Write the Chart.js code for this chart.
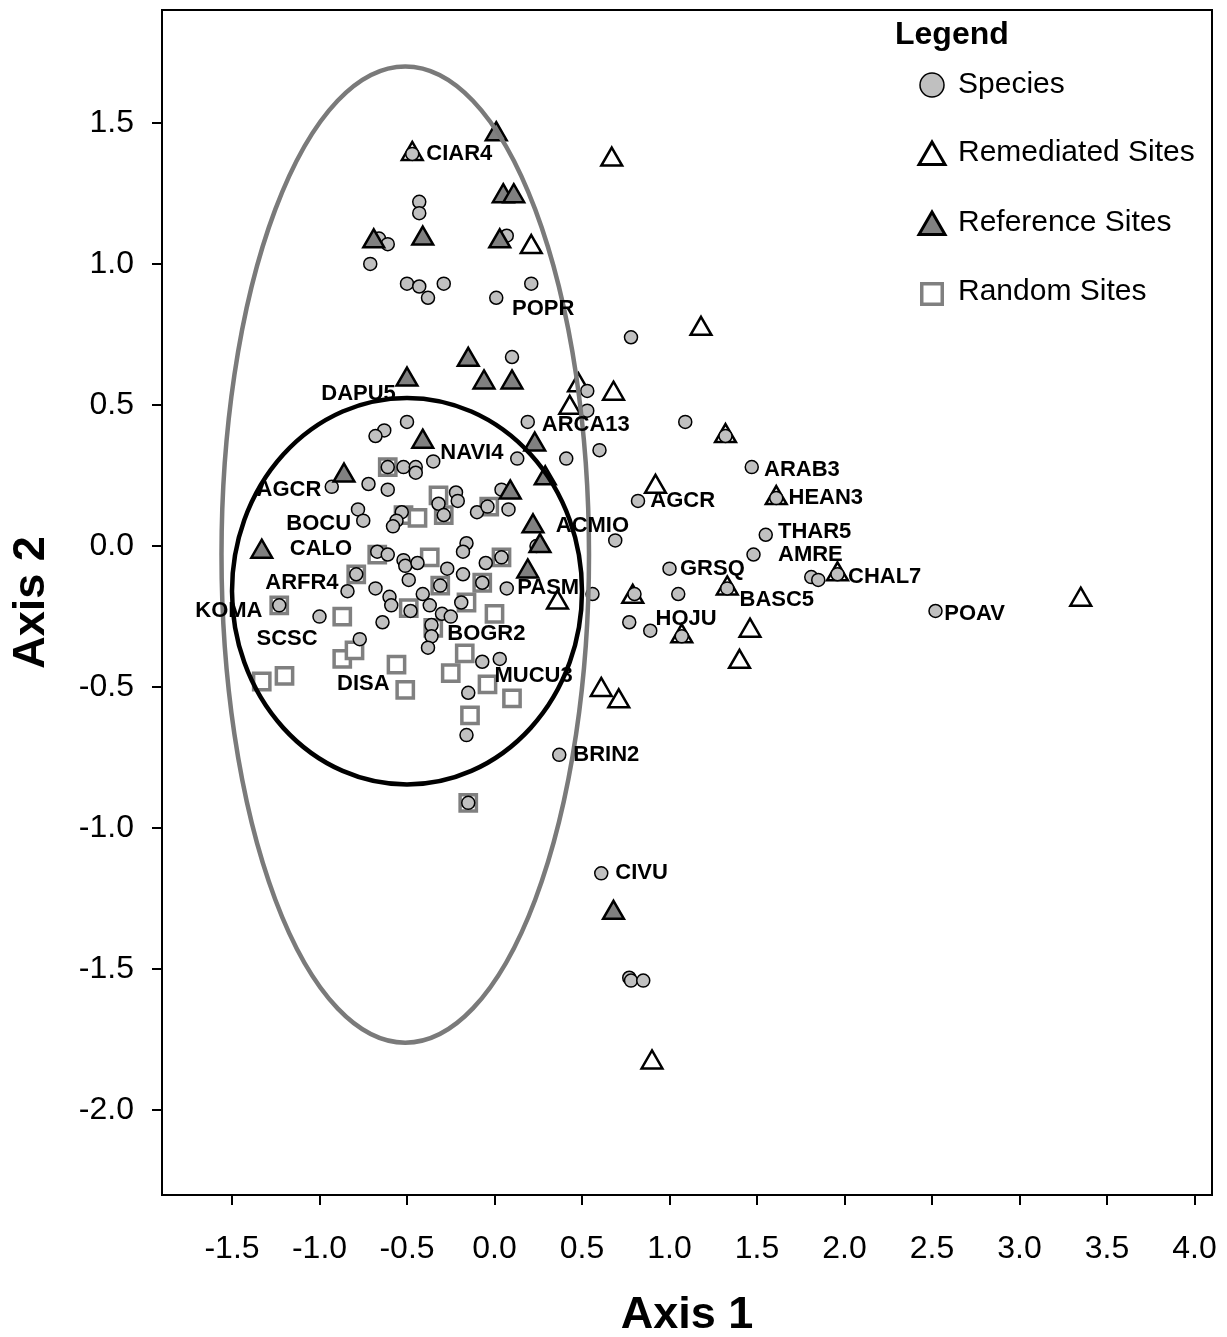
<!DOCTYPE html>
<html>
<head>
<meta charset="utf-8">
<script src="https://cdn.jsdelivr.net/npm/chart.js@4.4.1/dist/chart.umd.min.js"></script>
<style>
  html, body { margin: 0; padding: 0; background: #fff; }
</style>
</head>
<body>
<canvas id="ordination" width="1227" height="1337"></canvas>
<script>
// Tick values
const xTicks = [-1.5, -1.0, -0.5, 0.0, 0.5, 1.0, 1.5, 2.0, 2.5, 3.0, 3.5, 4.0];
const yTicks = [-2.0, -1.5, -1.0, -0.5, 0.0, 0.5, 1.0, 1.5];

// Species scores [axis1, axis2]
const species = [
  [-0.47, 1.39], [-0.43, 1.22], [-0.43, 1.18], [-0.66, 1.09], [-0.61, 1.07], [-0.71, 1.00],
  [-0.50, 0.93], [-0.43, 0.92], [-0.38, 0.88], [-0.29, 0.93], [0.01, 0.88], [0.21, 0.93],
  [0.07, 1.10], [0.78, 0.74], [0.10, 0.67], [0.53, 0.55], [0.53, 0.48], [0.19, 0.44],
  [1.09, 0.44], [1.32, 0.39], [0.13, 0.31], [0.41, 0.31], [0.60, 0.34], [1.47, 0.28],
  [0.82, 0.16], [1.61, 0.17], [0.08, 0.13], [-0.50, 0.44], [-0.63, 0.41], [-0.68, 0.39],
  [-0.35, 0.30], [-0.61, 0.28], [-0.52, 0.28], [-0.45, 0.28], [-0.45, 0.26], [-0.93, 0.21],
  [-0.72, 0.22], [-0.61, 0.20], [-0.22, 0.19], [-0.21, 0.16], [-0.32, 0.15], [-0.29, 0.11],
  [-0.53, 0.12], [-0.56, 0.09], [-0.58, 0.07], [-0.78, 0.13], [-0.75, 0.09], [-0.10, 0.12],
  [-0.04, 0.14], [0.04, 0.20], [-0.16, 0.01], [-0.18, -0.02], [0.24, 0.00], [-0.67, -0.02],
  [-0.61, -0.03], [-0.52, -0.05], [-0.51, -0.07], [-0.44, -0.06], [-0.27, -0.08], [-0.18, -0.10],
  [-0.05, -0.06], [0.04, -0.04], [-0.79, -0.10], [-0.84, -0.16], [-0.68, -0.15], [-0.60, -0.18],
  [-0.59, -0.21], [-0.49, -0.12], [-0.41, -0.17], [-0.37, -0.21], [-0.31, -0.14], [-0.30, -0.24],
  [-0.25, -0.25], [-0.07, -0.13], [-0.19, -0.20], [0.07, -0.15], [-0.48, -0.23], [-0.36, -0.28],
  [-0.36, -0.32], [-0.38, -0.36], [-0.64, -0.27], [-0.77, -0.33], [-1.00, -0.25], [-1.23, -0.21],
  [-0.07, -0.41], [0.03, -0.40], [-0.15, -0.52], [-0.16, -0.67], [-0.15, -0.91], [0.37, -0.74],
  [0.61, -1.16], [0.77, -1.53], [0.78, -1.54], [0.85, -1.54], [0.69, 0.02], [1.55, 0.04],
  [1.48, -0.03], [1.00, -0.08], [1.81, -0.11], [1.85, -0.12], [1.96, -0.10], [0.56, -0.17],
  [0.80, -0.17], [1.05, -0.17], [1.33, -0.15], [2.52, -0.23], [0.77, -0.27], [0.89, -0.30],
  [1.07, -0.32]
];

// Remediated sites
const remediated = [
  [-0.47, 1.39], [0.67, 1.37], [0.21, 1.06], [1.18, 0.77], [0.48, 0.57], [0.68, 0.54],
  [0.43, 0.49], [1.32, 0.39], [0.92, 0.21], [1.61, 0.17], [0.36, -0.20], [0.79, -0.18],
  [1.33, -0.15], [1.96, -0.10], [1.46, -0.30], [1.07, -0.32], [1.40, -0.41], [0.61, -0.51],
  [0.71, -0.55], [3.35, -0.19], [0.90, -1.83]
];

// Reference sites
const reference = [
  [0.01, 1.46], [0.05, 1.24], [0.11, 1.24], [-0.69, 1.08], [-0.41, 1.09], [0.03, 1.08],
  [-0.50, 0.59], [-0.15, 0.66], [-0.06, 0.58], [0.10, 0.58], [-0.41, 0.37], [-0.86, 0.25],
  [0.23, 0.36], [0.29, 0.24], [0.09, 0.19], [0.22, 0.07], [0.26, 0.00], [-1.33, -0.02],
  [0.19, -0.09], [0.68, -1.30]
];

// Random sites
const randomSites = [
  [-0.61, 0.28], [-0.32, 0.18], [-0.52, 0.11], [-0.44, 0.10], [-0.29, 0.11], [-0.03, 0.14],
  [-0.67, -0.03], [-0.79, -0.10], [-0.37, -0.04], [-0.31, -0.14], [0.04, -0.04], [-0.07, -0.13],
  [-1.23, -0.21], [-0.87, -0.25], [-0.49, -0.22], [-0.35, -0.29], [-0.16, -0.20], [0.00, -0.24],
  [-1.33, -0.48], [-1.20, -0.46], [-0.87, -0.40], [-0.80, -0.37], [-0.56, -0.42], [-0.51, -0.51],
  [-0.25, -0.45], [-0.17, -0.38], [-0.04, -0.49], [0.10, -0.54], [-0.14, -0.60], [-0.15, -0.91]
];

// Species code labels: text and where the text starts
const labelText = ['CIAR4', 'POPR', 'DAPU5', 'ARCA13', 'NAVI4', 'ARAB3', 'AGCR', 'HEAN3', 'AGCR',
  'BOCU', 'ACMIO', 'THAR5', 'CALO', 'AMRE', 'GRSQ', 'CHAL7', 'ARFR4', 'PASM', 'BASC5', 'KOMA',
  'POAV', 'HOJU', 'SCSC', 'BOGR2', 'DISA', 'MUCU3', 'BRIN2', 'CIVU'];
const labelPos = [
  [-0.39, 1.39], [0.10, 0.84], [-0.99, 0.54], [0.27, 0.43], [-0.31, 0.33], [1.54, 0.27],
  [-1.36, 0.20], [1.68, 0.17], [0.89, 0.16], [-1.19, 0.08], [0.35, 0.07], [1.62, 0.05],
  [-1.17, -0.01], [1.62, -0.03], [1.06, -0.08], [2.02, -0.11], [-1.31, -0.13], [0.13, -0.15],
  [1.40, -0.19], [-1.71, -0.23], [2.57, -0.24], [0.92, -0.26], [-1.36, -0.33], [-0.27, -0.31],
  [-0.90, -0.49], [0.00, -0.46], [0.45, -0.74], [0.69, -1.16]
];

// Confidence ellipses: [centre x, centre y, radius x, radius y]
const outerEllipse = [-0.51, -0.03, 1.05, 1.73];
const innerEllipse = [-0.50, -0.16, 1.00, 0.685];

const legendNames = ['Species', 'Remediated Sites', 'Reference Sites', 'Random Sites'];

const FONT = '"Liberation Sans", Arial, Helvetica, sans-serif';
const toXY = arr => arr.map(p => ({ x: p[0], y: p[1] }));

// frame, ellipses, labels and legend
const extrasPlugin = {
  id: 'extras',
  afterDatasetsDraw(chart) {
    const ctx = chart.ctx;
    const xs = chart.scales.x;
    const ys = chart.scales.y;
    const area = chart.chartArea;

    // ellipses
    const drawEllipse = (e, color) => {
      const cx = xs.getPixelForValue(e[0]);
      const cy = ys.getPixelForValue(e[1]);
      const rx = Math.abs(xs.getPixelForValue(e[0] + e[2]) - cx);
      const ry = Math.abs(ys.getPixelForValue(e[1] + e[3]) - cy);
      ctx.save();
      ctx.strokeStyle = color;
      ctx.lineWidth = 4.5;
      ctx.beginPath();
      ctx.ellipse(cx, cy, rx, ry, 0, 0, Math.PI * 2);
      ctx.stroke();
      ctx.restore();
    };
    drawEllipse(outerEllipse, '#7a7a7a');
    drawEllipse(innerEllipse, '#000');

    // species labels
    ctx.save();
    ctx.fillStyle = '#000';
    ctx.font = 'bold 22px ' + FONT;
    ctx.textAlign = 'left';
    ctx.textBaseline = 'middle';
    labelText.forEach((t, i) => {
      ctx.fillText(t, xs.getPixelForValue(labelPos[i][0]), ys.getPixelForValue(labelPos[i][1]));
    });
    ctx.restore();

    // top and right frame lines
    ctx.save();
    ctx.strokeStyle = '#000';
    ctx.lineWidth = 2;
    ctx.beginPath();
    ctx.moveTo(area.left, area.top);
    ctx.lineTo(area.right, area.top);
    ctx.lineTo(area.right, area.bottom);
    ctx.stroke();
    ctx.restore();

    // legend
    ctx.save();
    ctx.fillStyle = '#000';
    ctx.font = 'bold 32px ' + FONT;
    ctx.textBaseline = 'middle';
    ctx.fillText('Legend', 895, 35);
    const styles = [
      { pointStyle: 'circle', radius: 12, fill: '#c0c0c0', stroke: '#000', bw: 1.5, y: 85 },
      { pointStyle: 'triangle', radius: 15, fill: '#fff', stroke: '#000', bw: 3, y: 157 },
      { pointStyle: 'triangle', radius: 15, fill: '#808080', stroke: '#000', bw: 3, y: 227 },
      { pointStyle: 'rect', radius: 14.5, fill: '#fff', stroke: '#808080', bw: 3.5, y: 294 }
    ];
    const textY = [85, 153, 223, 292];
    styles.forEach((s, i) => {
      ctx.fillStyle = s.fill;
      ctx.strokeStyle = s.stroke;
      ctx.lineWidth = s.bw;
      Chart.helpers.drawPoint(ctx, { pointStyle: s.pointStyle, radius: s.radius, rotation: 0, borderWidth: s.bw }, 932, s.y);
      ctx.fillStyle = '#000';
      ctx.font = '30px ' + FONT;
      ctx.fillText(legendNames[i], 958, textY[i]);
    });
    ctx.restore();
  }
};

new Chart(document.getElementById('ordination'), {
  type: 'scatter',
  data: {
    datasets: [
      {
        label: 'Reference Sites',
        data: toXY(reference),
        pointStyle: 'triangle',
        pointRadius: 12,
        backgroundColor: '#808080',
        borderColor: '#000',
        borderWidth: 2.5,
        order: 0
      },
      {
        label: 'Species',
        data: toXY(species),
        pointStyle: 'circle',
        pointRadius: 6.5,
        backgroundColor: '#c0c0c0',
        borderColor: '#000',
        borderWidth: 1.5,
        order: 1
      },
      {
        label: 'Remediated Sites',
        data: toXY(remediated),
        pointStyle: 'triangle',
        pointRadius: 12,
        backgroundColor: '#fff',
        borderColor: '#000',
        borderWidth: 2.5,
        order: 2
      },
      {
        label: 'Random Sites',
        data: toXY(randomSites),
        pointStyle: 'rect',
        pointRadius: 11.5,
        backgroundColor: '#fff',
        borderColor: '#808080',
        borderWidth: 3.5,
        order: 3
      }
    ]
  },
  options: {
    responsive: false,
    devicePixelRatio: 1,
    animation: false,
    layout: { autoPadding: false, padding: { top: 10, right: 15, left: 0, bottom: 0 } },
    plugins: { legend: { display: false }, tooltip: { enabled: false } },
    scales: {
      x: {
        type: 'linear',
        min: -1.9,
        max: 4.1,
        afterBuildTicks: s => { s.ticks = xTicks.map(v => ({ value: v })); },
        afterFit: s => { s.height = 142; s.paddingLeft = 0; s.paddingRight = 0; },
        ticks: {
          color: '#000',
          font: { family: FONT, size: 32 },
          padding: 25,
          maxRotation: 0,
          autoSkip: false,
          callback: v => v.toFixed(1)
        },
        grid: { drawOnChartArea: false, drawTicks: true, tickLength: 10, color: '#000', lineWidth: 2 },
        border: { display: true, color: '#000', width: 2 },
        title: {
          display: true,
          text: 'Axis 1',
          color: '#000',
          font: { family: FONT, size: 45, weight: 'bold', lineHeight: 1 },
          padding: { top: 0, bottom: -1 }
        }
      },
      y: {
        type: 'linear',
        min: -2.3,
        max: 1.9,
        afterBuildTicks: s => { s.ticks = yTicks.map(v => ({ value: v })); },
        afterFit: s => { s.width = 162; s.paddingTop = 0; s.paddingBottom = 0; },
        ticks: {
          color: '#000',
          font: { family: FONT, size: 32 },
          padding: 18,
          autoSkip: false,
          callback: v => v.toFixed(1)
        },
        grid: { drawOnChartArea: false, drawTicks: true, tickLength: 10, color: '#000', lineWidth: 2 },
        border: { display: true, color: '#000', width: 2 },
        title: {
          display: true,
          text: 'Axis 2',
          color: '#000',
          font: { family: FONT, size: 45, weight: 'bold', lineHeight: 1 },
          padding: { top: 9, bottom: 0 }
        }
      }
    }
  },
  plugins: [extrasPlugin]
});
</script>
</body>
</html>
